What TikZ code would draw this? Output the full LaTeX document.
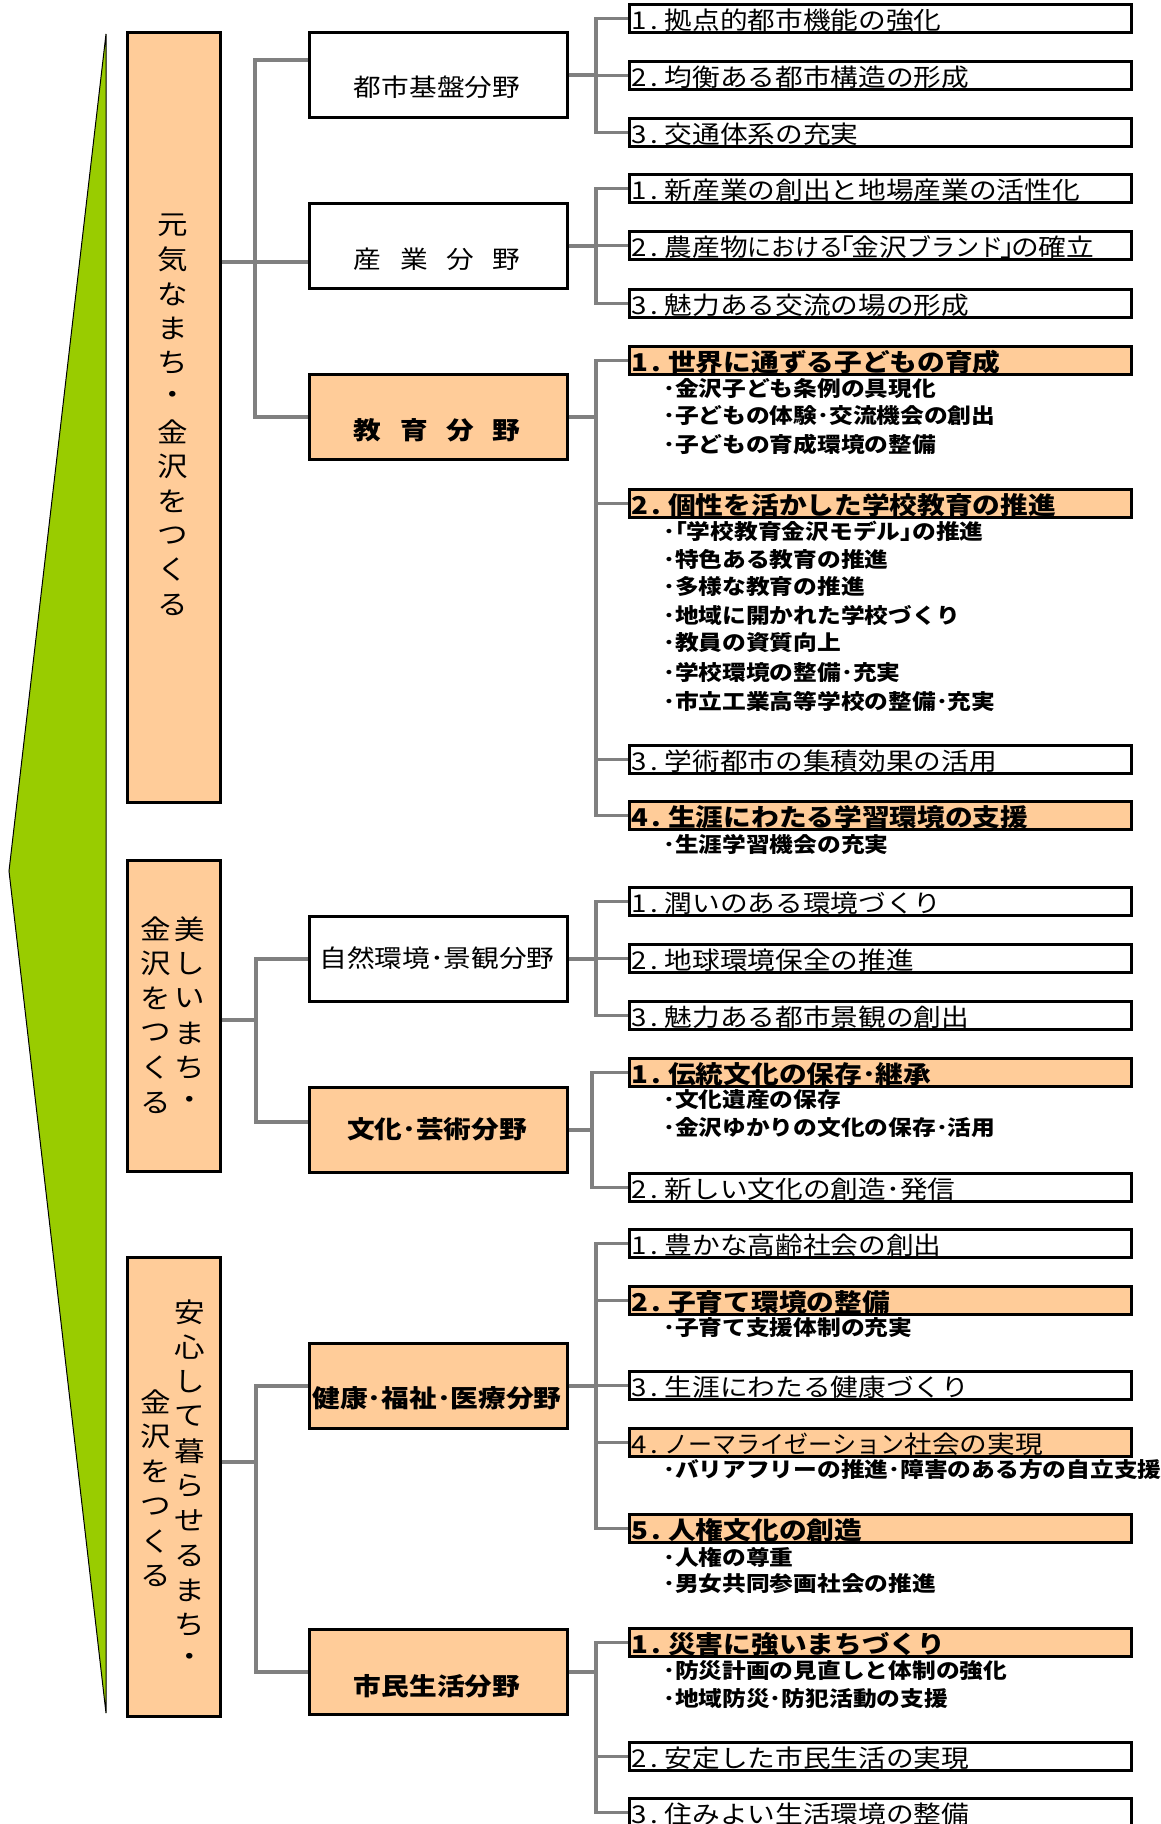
\documentclass[tikz,border=0pt]{standalone}
\usepackage{fontspec}
\usetikzlibrary{calc}
\newfontfamily\jp[FakeStretch=1.13]{Noto Sans CJK JP}
\newfontfamily\jpk[FakeStretch=0.98]{Noto Sans CJK JP}
\definecolor{peach}{HTML}{FFCC99}
\definecolor{leaf}{HTML}{99CC00}
\definecolor{conngray}{HTML}{808080}
\newcommand\nm[1]{#1\hspace{3.5pt}.\hspace{7pt}}
\newcommand\titem[5]{%
  \node[ibox, fill=#3] (#1) at (628,#2) {};
  \node[#4] (#1t) at ($(#1.west)+(3,2)$) {#5};
}
\newcommand\tsub[3]{\node[stxt] (#1) at (663,#2) {#3};}
\tikzset{
  colbox/.style={draw=black, line width=2.5pt, fill=peach, inner sep=0pt, anchor=north west, minimum width=93pt},
  midbox/.style={draw=black, line width=2.5pt, inner sep=0pt, anchor=north west, minimum width=258pt, minimum height=85pt},
  ibox/.style={draw=black, line width=2.5pt, inner sep=0pt, anchor=north west, minimum width=502pt, minimum height=28pt},
  itxt/.style={inner sep=0pt, anchor=west, font=\jp\fontsize{24.5}{28}\selectfont},
  btxt/.style={inner sep=0pt, anchor=west, font=\jp\bfseries\fontsize{24.5}{28}\selectfont},
  stxt/.style={inner sep=0pt, anchor=west, font=\jp\bfseries\fontsize{21}{24}\selectfont},
  mtxt/.style={inner sep=0pt, font=\jp\fontsize{24.5}{28}\selectfont},
  mbtxt/.style={inner sep=0pt, font=\jp\bfseries\fontsize{24.5}{28}\selectfont},
  vchar/.style={inner sep=0pt, font=\jp\fontsize{27}{30}\selectfont},
  conn/.style={draw=conngray, line width=3.5pt},
}
\begin{document}
\begin{tikzpicture}[x=1pt,y=-1pt]
\useasboundingbox (0,0) rectangle (1160,1824);
\fill[white] (0,0) rectangle (1160,1824);

% green wedge
\filldraw[fill=leaf, draw=black, line width=1pt] (106,34) -- (9,871) -- (106,1713) -- cycle;

% left column boxes
\node[colbox, minimum height=770pt] (A) at (126,31) {};
\node[colbox, minimum height=311pt] (B) at (126,859) {};
\node[colbox, minimum height=459pt] (C) at (126,1256) {};

\foreach \c [count=\i from 0] in {元,気,な,ま,ち,・,金,沢,を,つ,く,る}
  \node[vchar] (va\i) at (172.5,225+34.5*\i) {\c};
\foreach \c [count=\i from 0] in {美,し,い,ま,ち,・}
  \node[vchar] (vbr\i) at (190,929+34.7*\i) {\c};
\foreach \c [count=\i from 0] in {金,沢,を,つ,く,る}
  \node[vchar] (vbl\i) at (156,929+34.7*\i) {\c};
\foreach \c [count=\i from 0] in {安,心,し,て,暮,ら,せ,る,ま,ち,・}
  \node[vchar] (vcr\i) at (190,1312+34.8*\i) {\c};
\foreach \c [count=\i from 0] in {金,沢,を,つ,く,る}
  \node[vchar] (vcl\i) at (156,1402+34.8*\i) {\c};

% middle boxes
\node[midbox, fill=white] (toshi) at (308,31) {};
\node[mtxt] (toshit) at (437,87) {都市基盤分野};
\node[midbox, fill=white] (sangyo) at (308,202) {};
\node[mtxt] (sangyot) at (437,259) {産\hspace{18.5pt}業\hspace{18.5pt}分\hspace{18.5pt}野};
\node[midbox, fill=peach] (kyoiku) at (308,373) {};
\node[mbtxt] (kyoikut) at (437,430) {教\hspace{18.5pt}育\hspace{18.5pt}分\hspace{18.5pt}野};
\node[midbox, fill=white] (shizen) at (308,915) {};
\node[mtxt] (shizent) at (437,958) {自然環境･景観分野};
\node[midbox, fill=peach] (bunka) at (308,1086) {};
\node[mbtxt] (bunkat) at (437,1129) {文化･芸術分野};
\node[midbox, fill=peach] (kenko) at (308,1342) {};
\node[mbtxt] (kenkot) at (437,1398) {健康･福祉･医療分野};
\node[midbox, fill=peach] (shimin) at (308,1628) {};
\node[mbtxt] (shimint) at (437,1686) {市民生活分野};

% items
\titem{g1a}{3}{white}{itxt}{\nm{1}拠点的都市機能の強化}
\titem{g1b}{60}{white}{itxt}{\nm{2}均衡ある都市構造の形成}
\titem{g1c}{117}{white}{itxt}{\nm{3}交通体系の充実}

\titem{g2a}{173}{white}{itxt}{\nm{1}新産業の創出と地場産業の活性化}
\titem{g2b}{230}{white}{itxt}{\nm{2}農産物{\jpk における}\makebox[8pt][c]{｢}金沢{\jpk ブランド}\makebox[8pt][c]{｣}の確立}
\titem{g2c}{288}{white}{itxt}{\nm{3}魅力ある交流の場の形成}

\titem{g3a}{345}{peach}{btxt}{\nm{1}世界に通ずる子どもの育成}
\tsub{s3a1}{389}{･金沢子ども条例の具現化}
\tsub{s3a2}{416}{･子どもの体験･交流機会の創出}
\tsub{s3a3}{444}{･子どもの育成環境の整備}
\titem{g3b}{488}{peach}{btxt}{\nm{2}個性を活かした学校教育の推進}
\tsub{s3b1}{531}{･｢学校教育金沢モデル｣の推進}
\tsub{s3b2}{559}{･特色ある教育の推進}
\tsub{s3b3}{587}{･多様な教育の推進}
\tsub{s3b4}{615}{･地域に開かれた学校づくり}
\tsub{s3b5}{643}{･教員の資質向上}
\tsub{s3b6}{672}{･学校環境の整備･充実}
\tsub{s3b7}{701}{･市立工業高等学校の整備･充実}
\titem{g3c}{744}{white}{itxt}{\nm{3}学術都市の集積効果の活用}
\titem{g3d}{800}{peach}{btxt}{\nm{4}生涯にわたる学習環境の支援}
\tsub{s3d1}{844}{･生涯学習機会の充実}

\titem{g4a}{886}{white}{itxt}{\nm{1}潤いのある環境づくり}
\titem{g4b}{943}{white}{itxt}{\nm{2}地球環境保全の推進}
\titem{g4c}{1000}{white}{itxt}{\nm{3}魅力ある都市景観の創出}

\titem{g5a}{1057}{peach}{btxt}{\nm{1}伝統文化の保存･継承}
\tsub{s5a1}{1100}{･文化遺産の保存}
\tsub{s5a2}{1128}{･金沢ゆかりの文化の保存･活用}
\titem{g5b}{1172}{white}{itxt}{\nm{2}新しい文化の創造･発信}

\titem{g6a}{1228}{white}{itxt}{\nm{1}豊かな高齢社会の創出}
\titem{g6b}{1285}{peach}{btxt}{\nm{2}子育て環境の整備}
\tsub{s6b1}{1328}{･子育て支援体制の充実}
\titem{g6c}{1370}{white}{itxt}{\nm{3}生涯にわたる健康づくり}
\titem{g6d}{1427}{peach}{itxt}{\nm{4}{\jpk ノーマライゼーション}社会の実現}
\tsub{s6d1}{1470}{･バリアフリーの推進･障害のある方の自立支援}
\titem{g6e}{1513}{peach}{btxt}{\nm{5}人権文化の創造}
\tsub{s6e1}{1557}{･人権の尊重}
\tsub{s6e2}{1584}{･男女共同参画社会の推進}

\titem{g7a}{1627}{peach}{btxt}{\nm{1}災害に強いまちづくり}
\tsub{s7a1}{1671}{･防災計画の見直しと体制の強化}
\tsub{s7a2}{1699}{･地域防災･防犯活動の支援}
\titem{g7b}{1741}{white}{itxt}{\nm{2}安定した市民生活の実現}
\titem{g7c}{1797}{white}{itxt}{\nm{3}住みよい生活環境の整備}

% left connectors
\coordinate (lbA) at (255,0);
\coordinate (lbB) at (256,0);
\draw[conn] (A.east |- 0,262) -- (sangyo.west |- 0,262);
\draw[conn] (toshi.west |- 0,60) -| (lbA |- kyoiku.west) -- (kyoiku.west);
\draw[conn] (B.east |- 0,1020) -- (lbB |- 0,1020);
\draw[conn] (shizen.west) -| (lbB |- 0,1122) -- (bunka.west |- 0,1122);
\draw[conn] (C.east |- 0,1462) -- (lbB |- 0,1462);
\draw[conn] (kenko.west) -| (lbB |- shimin.west) -- (shimin.west);

% right connectors
\coordinate (rb) at (596,0);
\coordinate (rb5) at (592,0);
\draw[conn] (toshi.east) -- (rb |- toshi.east);
\draw[conn] (g1a.west) -| (rb |- g1c.west) -- (g1c.west);
\draw[conn] (rb |- g1b.west) -- (g1b.west);

\draw[conn] (sangyo.east) -- (rb |- sangyo.east);
\draw[conn] (g2a.west) -| (rb |- g2c.west) -- (g2c.west);
\draw[conn] (rb |- g2b.west) -- (g2b.west);

\draw[conn] (kyoiku.east) -- (rb |- kyoiku.east);
\draw[conn] (g3a.west) -| (rb |- g3d.west) -- (g3d.west);
\draw[conn] (rb |- g3b.west) -- (g3b.west);
\draw[conn] (rb |- g3c.west) -- (g3c.west);

\draw[conn] (shizen.east) -- (rb |- shizen.east);
\draw[conn] (g4a.west) -| (rb |- g4c.west) -- (g4c.west);
\draw[conn] (rb |- g4b.west) -- (g4b.west);

\draw[conn] (bunka.east) -- (rb5 |- bunka.east);
\draw[conn] (g5a.west) -| (rb5 |- g5b.west) -- (g5b.west);

\draw[conn] (kenko.east) -- (rb |- kenko.east);
\draw[conn] (g6a.west) -| (rb |- g6e.west) -- (g6e.west);
\draw[conn] (rb |- g6b.west) -- (g6b.west);
\draw[conn] (rb |- g6c.west) -- (g6c.west);
\draw[conn] (rb |- g6d.west) -- (g6d.west);

\draw[conn] (shimin.east) -- (rb |- shimin.east);
\draw[conn] (g7a.west) -| (rb |- g7c.west) -- (g7c.west);
\draw[conn] (rb |- g7b.west) -- (g7b.west);
\end{tikzpicture}
\end{document}
